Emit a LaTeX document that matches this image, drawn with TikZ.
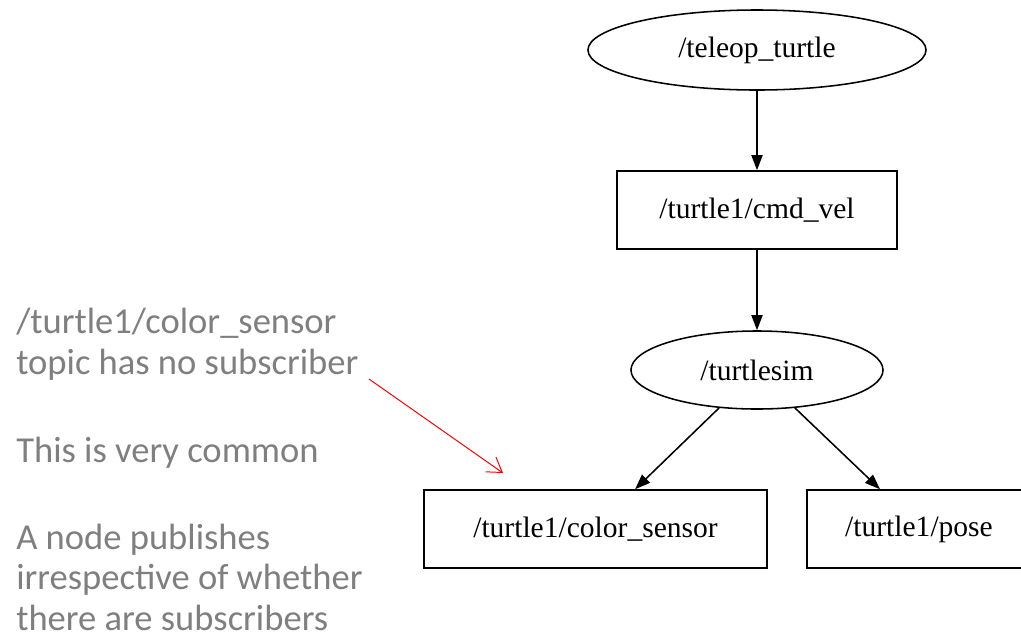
\documentclass[tikz,border=0pt]{standalone}
\usepackage{fontspec}
\setmainfont{Liberation Serif}
\newfontfamily\notefont{Carlito}
\usetikzlibrary{shapes.geometric,arrows.meta}
\definecolor{notegray}{RGB}{127,127,127}
\tikzset{
    rosnode/.style={draw,ellipse,line width=1.1pt,inner sep=0pt,font=\fontsize{21}{25}\selectfont},
    rostopic/.style={draw,rectangle,line width=1.1pt,inner sep=0pt,minimum height=1.95cm,font=\fontsize{21}{25}\selectfont},
    rosedge/.style={line width=1.1pt,-{Triangle[length=0.38cm,width=0.28cm]}},
    note/.style={anchor=base west,inner sep=0pt,align=left,text=notegray,font=\notefont\fontsize{26}{28.6}\selectfont},
}

\begin{document}
\begin{tikzpicture}[x=0.025cm,y=-0.025cm]
    \useasboundingbox (0,0) rectangle (1021,641);
    % graph
    \node[rosnode,minimum width=8.45cm,minimum height=2cm] (teleop) at (757,50) {/teleop\_turtle};
    \node[rostopic,minimum width=7cm] (cmdvel) at (757,210) {/turtle1/cmd\_vel};
    \node[rosnode,minimum width=6.3cm,minimum height=1.95cm] (turtlesim) at (757,370) {/turtlesim};
    \node[rostopic,minimum width=8.575cm] (colorsensor) at (595.5,529) {/turtle1/color\_sensor};
    \node[rostopic,minimum width=5.6cm] (pose) at (919,529) {/turtle1/pose};
    \draw[rosedge] (teleop) -- (cmdvel);
    \draw[rosedge] (cmdvel) -- (turtlesim);
    \draw[rosedge] (turtlesim.225) -- ([xshift=0.99cm]colorsensor.north);
    \draw[rosedge] (turtlesim.-45) -- ([xshift=-0.975cm]pose.north);
    % notes (base = last line)
    \node[note] (nosub) at (16,374) {/turtle1/color\_sensor\\topic has no subscriber};
    \node[note] (common) at (16,462) {This is very common};
    \node[note] (publish) at (16,630) {A node publishes\\irrespective of whether\\there are subscribers};
    \coordinate (notestart) at (369,379);
    \coordinate (notetip) at (503,473);
    \draw[red,line width=0.7pt,-{Straight Barb[length=0.35cm,width=0.45cm]}] (notestart) -- (notetip);
\end{tikzpicture}
\end{document}
